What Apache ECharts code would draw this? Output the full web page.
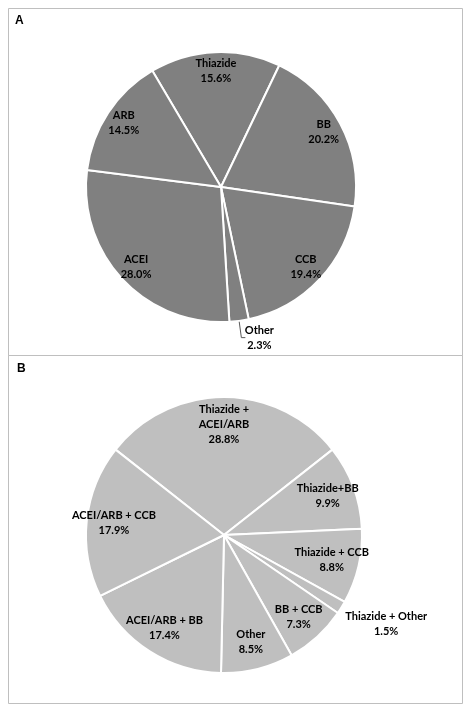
<!DOCTYPE html>
<html>
<head>
<meta charset="utf-8">
<script src="https://cdn.jsdelivr.net/npm/echarts@6/dist/echarts.min.js"></script>
<style>
html,body{margin:0;padding:0;background:#fff;}
#chart{width:473px;height:714px;}
</style>
</head>
<body>
<div id="chart"></div>
<script>
// Panel A: single-drug classes (clockwise from Thiazide)
var catsA = ['Thiazide', 'BB', 'CCB', 'Other', 'ACEI', 'ARB'];
var valsA = [15.6, 20.2, 19.4, 2.3, 28.0, 14.5];
// Panel B: combinations (clockwise from Thiazide + ACEI/ARB)
var catsB = ['Thiazide +\nACEI/ARB', 'Thiazide+BB', 'Thiazide + CCB', 'Thiazide + Other', 'BB + CCB', 'Other', 'ACEI/ARB + BB', 'ACEI/ARB + CCB'];
var valsB = [28.8, 9.9, 8.8, 1.5, 7.3, 8.5, 17.4, 17.9];
var outsideA = ['Other'];
var outsideB = ['Thiazide + Other'];

var FONT = 'Lato, "Open Sans", sans-serif';
var FS = 11, FW = 'bold', LH = 15;
function fmt(p){ return p.name + '\n' + Number(p.value).toFixed(1) + '%'; }

var chart = echarts.init(document.getElementById('chart'), null, {renderer:'canvas'});

function visible(cats, vals, center, r, start, color, outside, len, len2, lineShow, shift){
  return {
    type:'pie', silent:true, center:center, radius:[0, r], startAngle:start, clockwise:true,
    avoidLabelOverlap:false, animation:false,
    itemStyle:{color:color, borderColor:'#ffffff', borderWidth:2},
    label:{show:false},
    labelLine:{show:false},
    labelLayout: function(p){
      if (shift && outside.indexOf(cats[p.dataIndex]) >= 0) { return {dx:shift[0], dy:shift[1], align:'center'}; }
      return {};
    },
    data: cats.map(function(c,i){
      var d = {name:c, value:vals[i]};
      if (outside.indexOf(c) >= 0){
        d.label = {show:true, position:'outside', formatter:fmt, color:'#000', fontFamily:FONT, fontSize:FS, fontWeight:FW, lineHeight:LH, alignTo:'none'};
        d.labelLine = {show:lineShow, length:len, length2:len2, lineStyle:{color:'#595959', width:1}};
      }
      return d;
    })
  };
}
function labels(cats, vals, center, r, start, outside){
  return {
    type:'pie', silent:true, center:center, radius:[0, r], startAngle:start, clockwise:true,
    avoidLabelOverlap:false, animation:false, z:5,
    itemStyle:{color:'rgba(0,0,0,0)', borderWidth:0},
    label:{show:true, position:'inside', formatter:fmt, color:'#000', fontFamily:FONT, fontSize:FS, fontWeight:FW, lineHeight:LH},
    labelLine:{show:false},
    data: cats.map(function(c,i){
      var d = {name:c, value:vals[i]};
      if (outside.indexOf(c) >= 0){ d.label = {show:false}; }
      return d;
    })
  };
}

var option = {
  backgroundColor:'#ffffff',
  animation:false,
  title:[
    {text:'A', left:10, top:10, textStyle:{fontFamily:'"Liberation Sans", Arial, sans-serif', fontWeight:'bold', fontSize:12, color:'#000'}},
    {text:'B', left:12, top:358, textStyle:{fontFamily:'"Liberation Sans", Arial, sans-serif', fontWeight:'bold', fontSize:12, color:'#000'}}
  ],
  graphic:[
    {type:'rect', shape:{x:8.5, y:8.5, width:454, height:347}, style:{fill:'none', stroke:'#bfbfbf', lineWidth:1}, silent:true},
    {type:'rect', shape:{x:8.5, y:355.5, width:454, height:348}, style:{fill:'none', stroke:'#bfbfbf', lineWidth:1}, silent:true}
  ],
  series:[
    visible(catsA, valsA, [221,187], 135, 120.56, '#808080', outsideA, 17, 4, true, [9, 0]),
    labels(catsA, valsA, [221,187], 135*1.68, 120.56, outsideA),
    visible(catsB, valsB, [224,535], 138, 141.8, '#bfbfbf', outsideB, 8, 0, false, [33, 12]),
    labels(catsB, valsB, [224,535], 138*1.56, 141.8, outsideB)
  ]
};
chart.setOption(option);
</script>
</body>
</html>
